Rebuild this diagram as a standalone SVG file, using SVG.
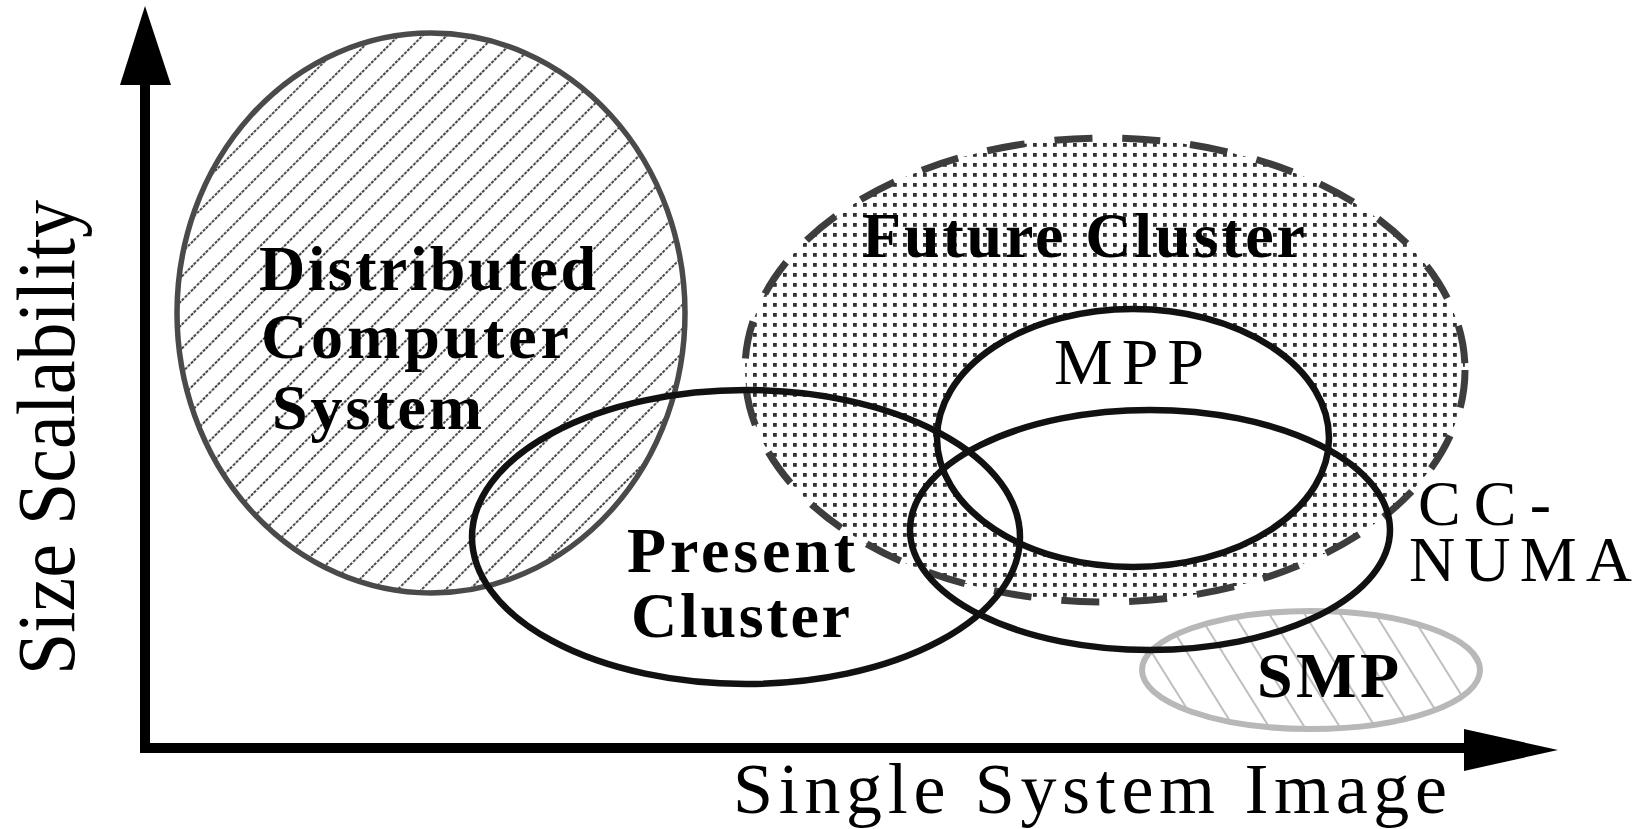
<svg xmlns="http://www.w3.org/2000/svg" width="1640" height="829" viewBox="0 0 1640 829">
  <style>
    .lbl { font-family: "Liberation Serif", "Times New Roman", serif; fill: #000; }
    .b { font-weight: bold; font-size: 64px; }
    .r { font-weight: normal; font-size: 64px; }
    .ax { font-family: "Liberation Serif", "Times New Roman", serif; font-weight: normal; fill: #000; }
    .outline { fill: none; stroke: #111; stroke-width: 6.5; }
  </style>
  <defs>
    <pattern id="hatchDist" patternUnits="userSpaceOnUse" width="17" height="17" patternTransform="rotate(45)">
      <line x1="1" y1="0" x2="1" y2="17" stroke="#333" stroke-width="1.8" stroke-dasharray="3 1.3"/>
    </pattern>
    <pattern id="hatchSmp" patternUnits="userSpaceOnUse" width="30" height="30" patternTransform="rotate(-32)">
      <line x1="1" y1="0" x2="1" y2="30" stroke="#b8b8b8" stroke-width="1.8"/>
    </pattern>
    <pattern id="dots" patternUnits="userSpaceOnUse" width="10" height="10">
      <rect x="3" y="3" width="3.8" height="3.8" fill="#333"/>
    </pattern>
  </defs>

  <rect width="1640" height="829" fill="#fff"/>

  <g id="distributed">
    <ellipse cx="431" cy="313" rx="254" ry="280" fill="#fff"/>
    <ellipse cx="431" cy="313" rx="254" ry="280" fill="url(#hatchDist)" stroke="#4a4a4a" stroke-width="5.5"/>
    <text class="lbl b" x="259" y="290" textLength="337" lengthAdjust="spacing">Distributed</text>
    <text class="lbl b" x="261" y="358" textLength="308" lengthAdjust="spacing">Computer</text>
    <text class="lbl b" x="272" y="429" textLength="210" lengthAdjust="spacing">System</text>
  </g>

  <g id="future-cluster">
    <ellipse cx="1105" cy="370" rx="360" ry="232" fill="#fff"/>
    <ellipse cx="1105" cy="370" rx="360" ry="232" fill="url(#dots)" stroke="#3d3d3d" stroke-width="7" stroke-dasharray="38 30"/>
    <text class="lbl b" x="862" y="257" textLength="443" lengthAdjust="spacing">Future Cluster</text>
  </g>

  <g id="smp">
    <ellipse cx="1311" cy="670" rx="169" ry="59" fill="#fff"/>
    <ellipse cx="1311" cy="670" rx="169" ry="59" fill="url(#hatchSmp)" stroke="#b8b8b8" stroke-width="6"/>
    <text class="lbl b" x="1257" y="697" textLength="142" lengthAdjust="spacing">SMP</text>
  </g>

  <g id="mpp">
    <ellipse cx="1133" cy="438" rx="196" ry="129" fill="#fff"/>
  </g>

  <g id="connectors">
    <ellipse class="outline" cx="746" cy="537" rx="274" ry="147"/>
    <ellipse class="outline" cx="1150" cy="530" rx="240" ry="120"/>
    <ellipse class="outline" cx="1133" cy="438" rx="196" ry="129"/>
    <line x1="145" y1="70" x2="145" y2="753" stroke="#000" stroke-width="10"/>
    <polygon points="145,6 171,85 120,85" fill="#000"/>
    <line x1="140" y1="748" x2="1480" y2="748" stroke="#000" stroke-width="10"/>
    <polygon points="1464,729 1558,750 1464,771" fill="#000"/>
  </g>

  <g id="mpp-label">
    <text class="lbl r" x="1054" y="384" textLength="150" lengthAdjust="spacing" style="font-size:66px">MPP</text>
  </g>

  <g id="present-cluster">
    <text class="lbl b" x="627" y="572" textLength="228" lengthAdjust="spacing">Present</text>
    <text class="lbl b" x="631" y="637" textLength="219" lengthAdjust="spacing">Cluster</text>
  </g>

  <g id="cc-numa">
    <text class="lbl r" x="1418" y="525" textLength="133" lengthAdjust="spacing">CC-</text>
    <text class="lbl r" x="1409" y="581" textLength="223" lengthAdjust="spacing">NUMA</text>
  </g>

  <g id="axis-labels">
    <text class="ax" x="733" y="813" font-size="72" textLength="714" lengthAdjust="spacing">Single System Image</text>
    <text class="ax" transform="translate(74,675) rotate(-90)" x="0" y="0" font-size="82" textLength="475" lengthAdjust="spacingAndGlyphs">Size Scalability</text>
  </g>
</svg>
